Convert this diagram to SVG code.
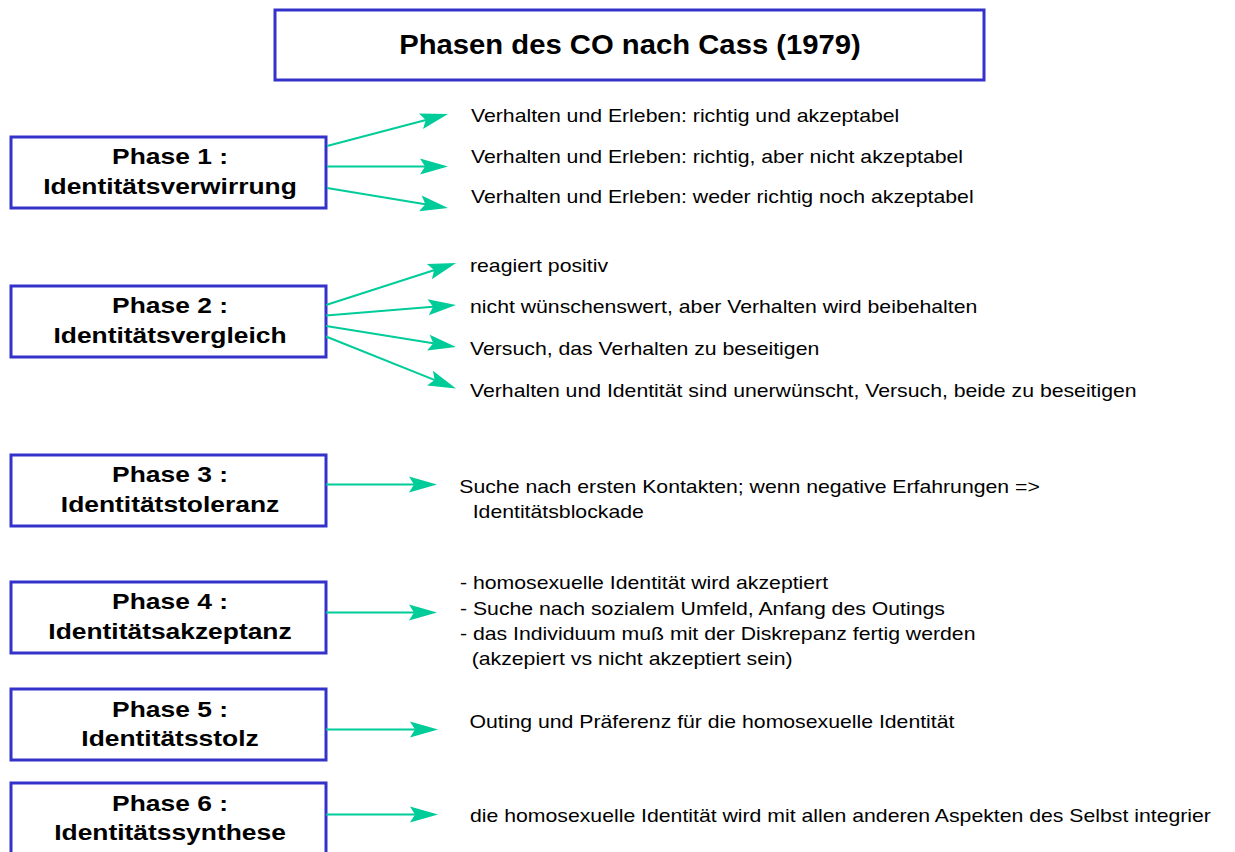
<svg xmlns="http://www.w3.org/2000/svg" width="1235" height="852" viewBox="0 0 1235 852">
  <defs>
    <style>
      .box { fill: #ffffff; stroke: #3333cc; stroke-width: 3; }
      .lbl { font-family: "Liberation Sans", Arial, Helvetica, sans-serif; font-size: 22px; font-weight: bold; fill: #000000; text-anchor: middle; }
      .title { font-family: "Liberation Sans", Arial, Helvetica, sans-serif; font-size: 28px; font-weight: bold; fill: #000000; text-anchor: middle; }
      .t { font-family: "Liberation Sans", Arial, Helvetica, sans-serif; font-size: 18px; fill: #000000; }
      .conn line { stroke: #00cc99; stroke-width: 2; fill: none; marker-end: url(#ah); }
    </style>
    <marker id="ah" markerUnits="userSpaceOnUse" markerWidth="40" markerHeight="40" refX="0" refY="0" orient="auto" overflow="visible">
      <path d="M20,0 L-8,-8 L-3,0 L-8,8 Z" fill="#00cc99"/>
    </marker>
  </defs>
  <rect width="1235" height="852" fill="#ffffff"/>

  <g id="title">
    <rect class="box" x="275" y="10" width="709" height="70"/>
    <text class="title" transform="matrix(1.045 0 0 1 630 53.5)">Phasen des CO nach Cass (1979)</text>
  </g>

  <g id="phase1">
    <rect class="box" x="11" y="137" width="315" height="71"/>
    <text class="lbl" transform="matrix(1.2 0 0 1 170 164)">Phase 1 :</text>
    <text class="lbl" transform="matrix(1.2 0 0 1 170 194)">Identitätsverwirrung</text>
  </g>
  <g id="phase2">
    <rect class="box" x="11" y="286" width="315" height="71"/>
    <text class="lbl" transform="matrix(1.2 0 0 1 170 313)">Phase 2 :</text>
    <text class="lbl" transform="matrix(1.2 0 0 1 170 343)">Identitätsvergleich</text>
  </g>
  <g id="phase3">
    <rect class="box" x="11" y="455" width="315" height="71"/>
    <text class="lbl" transform="matrix(1.2 0 0 1 170 482)">Phase 3 :</text>
    <text class="lbl" transform="matrix(1.2 0 0 1 170 512)">Identitätstoleranz</text>
  </g>
  <g id="phase4">
    <rect class="box" x="11" y="582" width="315" height="71"/>
    <text class="lbl" transform="matrix(1.2 0 0 1 170 609)">Phase 4 :</text>
    <text class="lbl" transform="matrix(1.2 0 0 1 170 639)">Identitätsakzeptanz</text>
  </g>
  <g id="phase5">
    <rect class="box" x="11" y="689" width="315" height="71"/>
    <text class="lbl" transform="matrix(1.2 0 0 1 170 717)">Phase 5 :</text>
    <text class="lbl" transform="matrix(1.2 0 0 1 170 746)">Identitätsstolz</text>
  </g>
  <g id="phase6">
    <rect class="box" x="11" y="783" width="315" height="73"/>
    <text class="lbl" transform="matrix(1.2 0 0 1 170 811)">Phase 6 :</text>
    <text class="lbl" transform="matrix(1.2 0 0 1 170 840)">Identitätssynthese</text>
  </g>

  <g id="connectors" class="conn">
    <line x1="327" y1="146" x2="428.7" y2="119.2"/>
    <line x1="327" y1="166.5" x2="428" y2="166.5"/>
    <line x1="327" y1="188" x2="428.3" y2="204.7"/>
    <line x1="326" y1="305" x2="437" y2="269.2"/>
    <line x1="326" y1="315.5" x2="436.1" y2="306.6"/>
    <line x1="326" y1="326" x2="436.3" y2="343.8"/>
    <line x1="326" y1="336.5" x2="437.4" y2="381.1"/>
    <line x1="326" y1="484.5" x2="417" y2="484.5"/>
    <line x1="326" y1="612.5" x2="417" y2="612.5"/>
    <line x1="326" y1="729.5" x2="418" y2="729.5"/>
    <line x1="326" y1="814.5" x2="418" y2="814.5"/>
  </g>

  <g id="texts-phase1">
    <text class="t" transform="matrix(1.18 0 0 1 471 121.7)">Verhalten und Erleben: richtig und akzeptabel</text>
    <text class="t" transform="matrix(1.18 0 0 1 471 163)">Verhalten und Erleben: richtig, aber nicht akzeptabel</text>
    <text class="t" transform="matrix(1.18 0 0 1 471 202.7)">Verhalten und Erleben: weder richtig noch akzeptabel</text>
  </g>
  <g id="texts-phase2">
    <text class="t" transform="matrix(1.18 0 0 1 470 271.7)">reagiert positiv</text>
    <text class="t" transform="matrix(1.18 0 0 1 470 313.3)">nicht wünschenswert, aber Verhalten wird beibehalten</text>
    <text class="t" transform="matrix(1.18 0 0 1 470 355)">Versuch, das Verhalten zu beseitigen</text>
    <text class="t" transform="matrix(1.18 0 0 1 470 396.7)">Verhalten und Identität sind unerwünscht, Versuch, beide zu beseitigen</text>
  </g>
  <g id="texts-phase3">
    <text class="t" transform="matrix(1.18 0 0 1 459.3 493.3)">Suche nach ersten Kontakten; wenn negative Erfahrungen =&gt;</text>
    <text class="t" transform="matrix(1.18 0 0 1 472.7 518.3)">Identitätsblockade</text>
  </g>
  <g id="texts-phase4">
    <text class="t" transform="matrix(1.18 0 0 1 460 589)">- homosexuelle Identität wird akzeptiert</text>
    <text class="t" transform="matrix(1.18 0 0 1 460 614.5)">- Suche nach sozialem Umfeld, Anfang des Outings</text>
    <text class="t" transform="matrix(1.18 0 0 1 460 640)">- das Individuum muß mit der Diskrepanz fertig werden</text>
    <text class="t" transform="matrix(1.18 0 0 1 471.7 665)">(akzepiert vs nicht akzeptiert sein)</text>
  </g>
  <g id="texts-phase5">
    <text class="t" transform="matrix(1.18 0 0 1 469.5 727.7)">Outing und Präferenz für die homosexuelle Identität</text>
  </g>
  <g id="texts-phase6">
    <text class="t" transform="matrix(1.18 0 0 1 470 822)">die homosexuelle Identität wird mit allen anderen Aspekten des Selbst integrier</text>
  </g>
</svg>
